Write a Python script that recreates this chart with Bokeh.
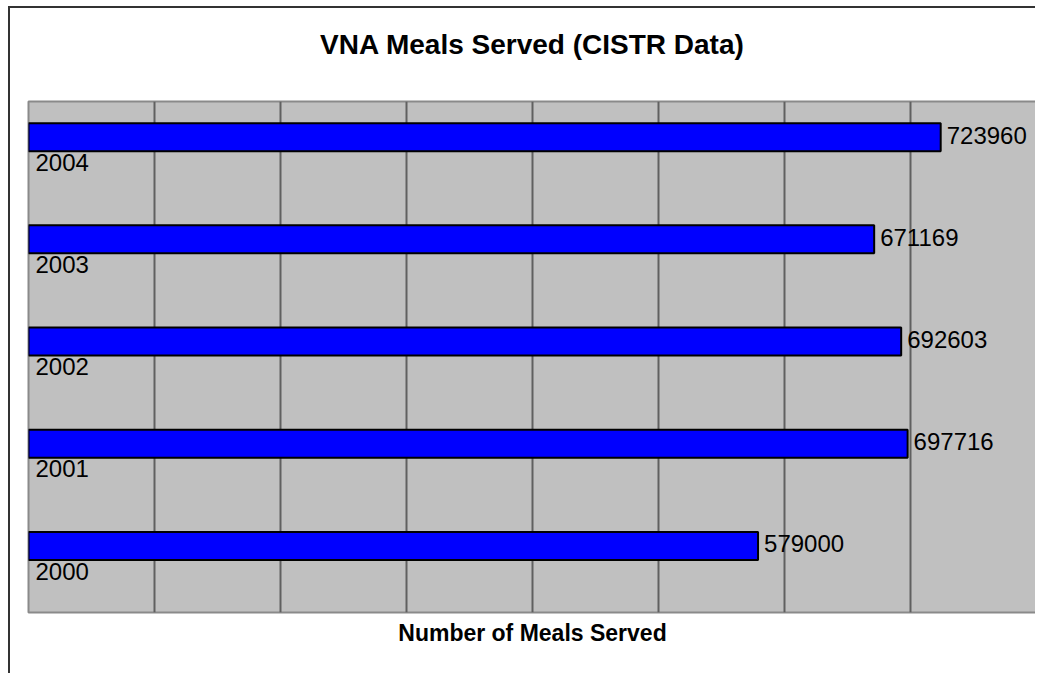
from bokeh.plotting import figure
from bokeh.models import (ColumnDataSource, SingleIntervalTicker, FixedTicker, Range1d,
                          LinearAxis)
from bokeh.core.properties import value
from bokeh.embed import file_html
from bokeh.resources import INLINE

years = ["2000", "2001", "2002", "2003", "2004"]
meals = [579000, 697716, 692603, 671169, 723960]
x_max = 800000
grid_step = 100000
title_text = "VNA Meals Served (CISTR Data)"
x_label = "Number of Meals Served"

FONT = "Liberation Sans"

idx = list(range(len(years)))
src = ColumnDataSource(dict(
    y=[i + 0.651 for i in idx],
    ylab=[i + 0.405 for i in idx],
    meals=meals,
    year=years,
    label=[str(v) for v in meals],
))

p = figure(width=1027, height=667, output_backend="svg", toolbar_location=None,
           x_range=Range1d(0, x_max), y_range=Range1d(0, len(years)),
           min_border_left=18, min_border_right=1, min_border_bottom=63, min_border_top=93,
           background_fill_color="#C0C0C0", border_fill_color="white",
           styles={"border-left": "2px solid #333333", "border-top": "2px solid #333333",
                   "margin-left": "8px", "margin-top": "6px"})

# chart title, carried by a blank axis above the plot area
top_axis = LinearAxis(ticker=FixedTicker(ticks=[]), axis_label=title_text,
                      axis_label_text_font=FONT, axis_label_text_font_size="28px",
                      axis_label_text_font_style="bold", axis_label_text_color="black",
                      axis_label_standoff=42, major_tick_out=0, major_tick_in=0,
                      major_tick_line_color=None, minor_tick_line_color=None,
                      axis_line_color=None, major_label_standoff=0)
p.add_layout(top_axis, "above")

p.outline_line_color = "#8a8a8a"
p.outline_line_width = 2

p.hbar(y="y", right="meals", left=0, height=0.274, source=src,
       fill_color="#0000FF", line_color="black", line_width=2)

p.text(x=0, y="ylab", text="year", source=src, x_offset=7,
       text_font=value(FONT), text_font_size="24px", text_baseline="middle",
       text_align="left", text_color="black")
p.text(x="meals", y="y", text="label", source=src, x_offset=6, y_offset=-2,
       text_font=value(FONT), text_font_size="24px", text_baseline="middle",
       text_align="left", text_color="black")

xa = p.below[0]
xa.ticker = FixedTicker(ticks=[])
xa.axis_label = x_label
xa.axis_label_text_font = FONT
xa.axis_label_text_font_size = "23px"
xa.axis_label_text_font_style = "bold"
xa.axis_label_text_color = "black"
xa.axis_line_color = None
xa.major_tick_line_color = None
xa.minor_tick_line_color = None
xa.major_label_standoff = 0
xa.axis_label_standoff = 7

p.yaxis.visible = False
p.xgrid.ticker = SingleIntervalTicker(interval=grid_step)
p.xgrid.grid_line_color = "#606060"
p.xgrid.grid_line_width = 2
p.xgrid.grid_line_alpha = 1
p.ygrid.grid_line_color = None

open("out.html", "w").write(file_html(p, INLINE))
